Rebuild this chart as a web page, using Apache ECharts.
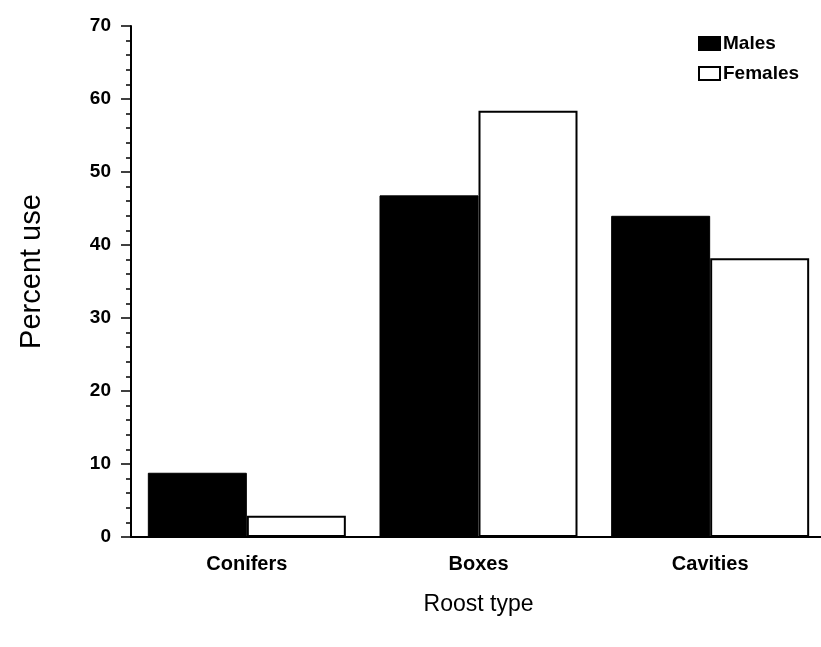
<!DOCTYPE html>
<html>
<head>
<meta charset="utf-8">
<script src="https://cdn.jsdelivr.net/npm/echarts@6/dist/echarts.min.js"></script>
<style>
html,body{margin:0;padding:0;background:#fff;overflow:hidden;width:821px;height:647px;}
#chart{width:830px;height:647px;}
</style>
</head>
<body>
<div id="chart"></div>
<script>
var categories = ['Conifers', 'Boxes', 'Cavities'];
var males = [8.8, 46.8, 44.0];
var females = [2.9, 58.4, 38.2];
var yTicks = [0, 10, 20, 30, 40, 50, 60, 70];

var chart = echarts.init(document.getElementById('chart'));
var font = 'Liberation Sans, Arial, sans-serif';
chart.setOption({
  animation: false,
  backgroundColor: '#ffffff',
  grid: { left: 131, top: 26, height: 511, width: 695, containLabel: false },
  legend: {
    left: 698, top: 34, orient: 'vertical', padding: 0,
    icon: 'rect',
    itemWidth: 21, itemHeight: 13, itemGap: 11,
    textStyle: { fontFamily: font, fontSize: 19, fontWeight: 'bold', color: '#000', padding: [0,0,0,-2] },
    data: ['Males', 'Females']
  },
  xAxis: {
    type: 'category',
    data: categories,
    name: 'Roost type',
    nameLocation: 'middle',
    nameGap: 56,
    nameTextStyle: { fontFamily: font, fontSize: 23, color: '#000' },
    axisLine: { lineStyle: { color: '#000', width: 2 } },
    axisTick: { alignWithLabel: true, length: 11, lineStyle: { color: '#000', width: 1.5 } },
    axisLabel: { fontFamily: font, fontSize: 20, fontWeight: 'bold', color: '#000', margin: 17 },
    z: 10
  },
  yAxis: {
    type: 'value',
    min: yTicks[0],
    max: yTicks[yTicks.length - 1],
    interval: 10,
    name: 'Percent use',
    nameLocation: 'middle',
    nameGap: 85,
    nameTextStyle: { fontFamily: font, fontSize: 29, color: '#000', padding: [0, 0, 0, 20] },
    axisLine: { show: true, lineStyle: { color: '#000', width: 2 } },
    axisTick: { show: true, length: 10, lineStyle: { color: '#000', width: 1.5 } },
    minorTick: { show: true, splitNumber: 5, length: 5, lineStyle: { color: '#000', width: 1.5 } },
    splitLine: { show: false },
    axisLabel: { fontFamily: font, fontSize: 19, fontWeight: 'bold', color: '#000', margin: 20 }
  },
  series: [
    {
      name: 'Males', type: 'bar', data: males,
      barWidth: 99, barGap: '0%',
      itemStyle: { color: '#000', borderColor: '#000', borderWidth: 1 }
    },
    {
      name: 'Females', type: 'bar', data: females,
      barWidth: 99, barGap: '0%',
      itemStyle: { color: '#fff', borderColor: '#000', borderWidth: 2 }
    }
  ]
});
</script>
</body>
</html>
